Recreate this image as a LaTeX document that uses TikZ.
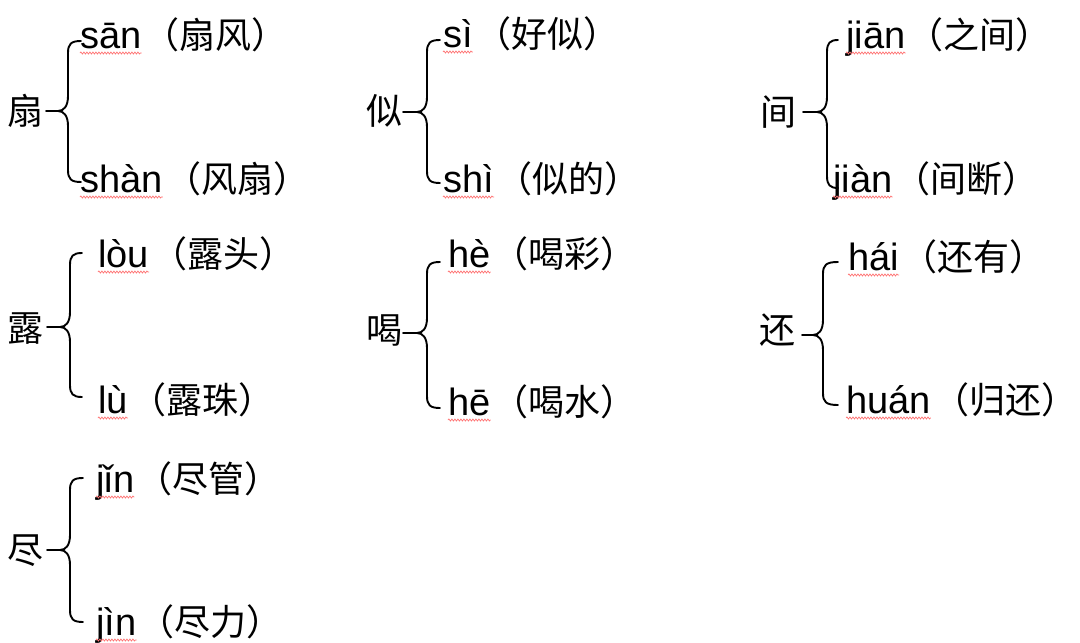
\documentclass[tikz,border=0pt]{standalone}
\usepackage{fontspec}
\setmainfont{Liberation Sans}
\newfontfamily\cjk{Noto Sans CJK SC}
\newfontfamily\pyf{Liberation Sans}
\usetikzlibrary{decorations.pathmorphing}
\tikzset{
  bracestyle/.style={line width=1.9pt, black, line cap=round, line join=round},
  hanzi/.style={inner sep=0pt, anchor=base, font=\cjk\fontsize{36}{40}\selectfont},
  py/.style={inner sep=0pt, anchor=base west, font=\pyf\fontsize{38}{42}\selectfont},
  gloss/.style={inner sep=0pt, anchor=base west, font=\cjk\fontsize{36}{40}\selectfont},
  squiggle/.style={draw=red!55, line width=0.7pt, decorate,
    decoration={snake, amplitude=1pt, segment length=3pt}}
}
% #1 vertical x, #2 top y, #3 mid y, #4 bottom y, #5 stub left x, #6 end right x
\newcommand\mybrace[6]{%
  \draw[bracestyle] (#6,#2) .. controls (#1+3,#2) and (#1,#2+3) .. (#1,#2+12)
    -- (#1,#3-15) .. controls (#1,#3-5) and (#1-4,#3) .. (#1-10,#3) -- (#5,#3);
  \draw[bracestyle] (#1-10,#3) .. controls (#1-4,#3) and (#1,#3+5) .. (#1,#3+15)
    -- (#1,#4-12) .. controls (#1,#4-3) and (#1+3,#4) .. (#6,#4);
}
% #1 name, #2 x, #3 baseline y, #4 pinyin, #5 gloss
\newcommand\pyline[5]{%
  \node[py] (#1) at (#2,#3) {#4};
  \node[gloss] (#1g) at ([xshift=2pt]#1.base east) {#5};
  \draw[squiggle] ([yshift=-5pt]#1.base west) -- ([yshift=-5pt]#1.base east);
}
\begin{document}
\begin{tikzpicture}[x=1pt,y=-1pt]
\useasboundingbox[fill=white] (0,0) rectangle (1080,643);

% Group 1
\node[hanzi] (c1) at (26,124) {扇};
\mybrace{68}{41}{111}{182}{46}{81}
\pyline{p1a}{80}{48}{sān}{（扇风）}
\pyline{p1b}{80}{192}{shàn}{（风扇）}

% Group 2
\node[hanzi] (c2) at (384,124) {似};
\mybrace{427}{40}{112}{183}{403}{440}
\pyline{p2a}{443}{47}{sì}{（好似）}
\pyline{p2b}{443}{192}{shì}{（似的）}

% Group 3
\node[hanzi] (c3) at (778,125) {间};
\mybrace{827}{40}{112}{188}{803}{838}
\pyline{p3a}{846}{48}{jiān}{（之间）}
\pyline{p3b}{833}{192}{jiàn}{（间断）}

% Group 4
\node[hanzi] (c4) at (26,341) {露};
\mybrace{70}{253}{327}{397}{47}{82}
\pyline{p4a}{98}{267}{lòu}{（露头）}
\pyline{p4b}{98}{413}{lù}{（露珠）}

% Group 5
\node[hanzi] (c5) at (384,343) {喝};
\mybrace{427}{262}{333}{408}{403}{440}
\pyline{p5a}{448}{267}{hè}{（喝彩）}
\pyline{p5b}{448}{415}{hē}{（喝水）}

% Group 6
\node[hanzi] (c6) at (777,343) {还};
\mybrace{823}{262}{335}{405}{802}{838}
\pyline{p6a}{848}{270}{hái}{（还有）}
\pyline{p6b}{846}{413}{huán}{（归还）}

% Group 7
\node[hanzi] (c7) at (25,563) {尽};
\mybrace{70}{478}{550}{622}{47}{83}
\pyline{p7a}{96}{492}{jǐn}{（尽管）}
\pyline{p7b}{96}{635}{jìn}{（尽力）}
\end{tikzpicture}
\end{document}
